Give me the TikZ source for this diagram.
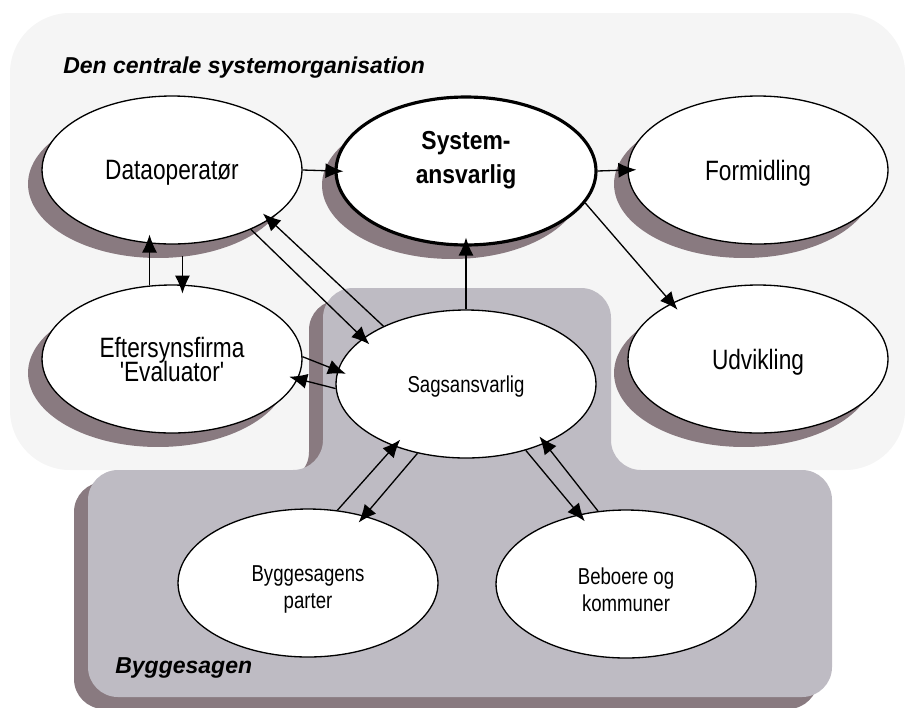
\documentclass[tikz,border=0pt]{standalone}
\usepackage{fontspec}
\setmainfont{Liberation Sans}
\newfontfamily\narrowfont[FakeStretch=0.81]{Liberation Sans}
\newfontfamily\sysfont[FakeStretch=0.88]{Liberation Sans}
\usetikzlibrary{shapes.geometric,arrows.meta,shadows}
\definecolor{orgbg}{RGB}{245,245,245}
\definecolor{casebg}{RGB}{190,187,195}
\definecolor{shadowc}{RGB}{137,122,128}
\tikzset{
    bubble/.style={ellipse,draw,line width=0.75pt,fill=white,inner sep=0pt,
        minimum width=5.2cm,minimum height=2.96cm,align=center,text depth=0pt,
        font=\narrowfont\fontsize{15.93}{13.5}\selectfont},
    smallbubble/.style={bubble,font=\narrowfont\fontsize{13.09}{15.36}\selectfont},
    smalltext/.style={align=center,inner sep=0pt,
        font=\narrowfont\fontsize{13.09}{15.36}\selectfont},
    raised/.style={drop shadow={shadow xshift=-0.28cm,shadow yshift=-0.28cm,
        fill=shadowc,opacity=1}},
    systext/.style={align=center,inner sep=0pt,
        font=\sysfont\bfseries\fontsize{14.8}{19.35}\selectfont},
    areatitle/.style={anchor=base west,inner sep=0pt,
        font=\bfseries\itshape\fontsize{13.09}{15}\selectfont},
    link/.style={line width=0.75pt,-{Latex[length=0.36cm,width=0.3cm]},
        shorten >=-0.18cm}
}
\begin{document}
\lineskiplimit=-10pt
\begin{tikzpicture}[x=0.02cm,y=-0.02cm]
    \useasboundingbox (0,0) rectangle (905,707);
    \clip (0,0) rectangle (905,707);
    %% central organisation
    \fill[orgbg,rounded corners=1.2cm] (10,240) -- (10,13) -- (905,13) -- (905,470) -- (10,470) -- cycle;
    %% Byggesagen area and its shadow
    \foreach \dx/\dy/\col in {-14/12/shadowc,0/0/casebg}
        \fill[\col,shift={(\dx,\dy)},rounded corners=0.6cm] (88,600) -- (88,470) -- (323,470)
            -- (323,288) -- (611,288) -- (611,470) -- (832,470) -- (832,697) -- (88,697) -- cycle;
    \node[areatitle] (orgtitle) at (63,73) {Den centrale systemorganisation};
    \node[areatitle] (casetitle) at (115,673) {Byggesagen};
    %% roles
    \node[bubble,raised] (data) at (172,170) {Dataoperatør};
    \node[bubble,raised,line width=1.8pt] (sys) at (466,171) {};
    \node[systext] (systxt) at (466,160) {System-\\ansvarlig};
    \node[bubble,raised] (form) at (758,170) {Formidling};
    \node[bubble,raised] (eft) at (172,359) {Eftersynsfirma\\'Evaluator'};
    \node[bubble,raised] (udv) at (758,359) {Udvikling};
    \node[smallbubble] (sag) at (466,384) {Sagsansvarlig};
    \node[smallbubble] (bygg) at (308,583) {};
    \node[smalltext] (byggtxt) at (308,589) {Byggesagens\\parter};
    \node[smallbubble] (bebo) at (626,584) {};
    \node[smalltext] (bebotxt) at (626,590) {Beboere og\\kommuner};
    %% flows
    \foreach \a/\b in {data.east/sys.west,sys.east/form.west,sys.-15/udv.147,
                       sag.north/sys.south,eft.107/data.253,sag.145/data.-27,
                       data.-37/sag.156,eft.1/sag.174,sag.182/eft.-9,
                       bygg.68/sag.221,sag.235/bygg.50,sag.-48/bebo.124,bebo.111/sag.-37}
        \draw[link] (\a) -- (\b);
    \draw[link,shorten <=0.24cm] (data.-82) -- (eft.82);
\end{tikzpicture}
\end{document}
